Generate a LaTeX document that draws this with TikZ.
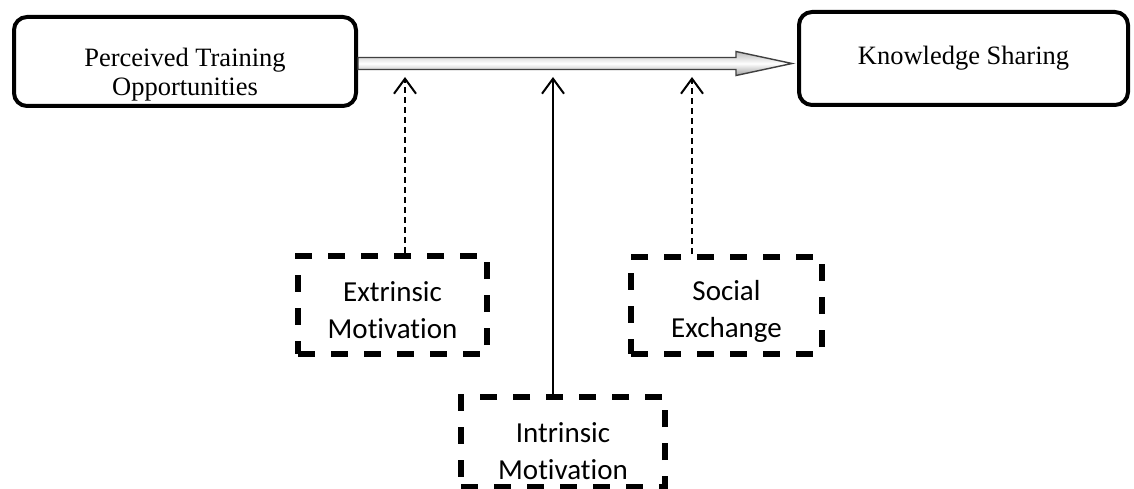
\documentclass[tikz,border=0pt]{standalone}
\usepackage{fontspec}
\setmainfont{Liberation Serif}
\newfontfamily\carl[Ligatures=NoCommon]{Carlito}
\usetikzlibrary{arrows.meta,calc}
\begin{document}
\begin{tikzpicture}[x=1pt,y=-1pt,
  mainbox/.style={draw,line width=4pt,rounded corners=13pt,inner sep=0pt},
  maintext/.style={align=center,font=\fontsize{26.5}{29}\selectfont,inner sep=0pt},
  modbox/.style={draw,line width=6pt,dash pattern=on 17pt off 16pt,inner sep=0pt},
  modtext/.style={align=center,font=\carl\fontsize{29}{37}\selectfont,inner sep=0pt},
  dashlink/.style={line width=2pt,dash pattern=on 6pt off 4pt,-{Straight Barb[length=15pt,width=22pt,line width=2pt]}},
  solidlink/.style={line width=2pt,-{Straight Barb[length=15pt,width=22pt,line width=2pt]}}
]
\useasboundingbox[fill=white] (0,0) rectangle (1134,489);
% main boxes
\node[mainbox,minimum width=342pt,minimum height=89pt] (pto) at (185,61.5) {};
\node[maintext] (ptot) at (185,75) {Perceived Training\\Opportunities};
\node[mainbox,minimum width=329pt,minimum height=93pt,maintext] (ks) at (963.5,58.5) {Knowledge Sharing};
% moderator boxes
\node[modbox,minimum width=189pt,minimum height=98pt] (em) at (392.5,305) {};
\node[modtext] (emt) at (392.5,310) {Extrinsic\\Motivation};
\node[modbox,minimum width=191pt,minimum height=97pt] (se) at (726.5,305.5) {};
\node[modtext] (set) at (726.5,311) {Social\\Exchange};
\node[modbox,minimum width=204pt,minimum height=90pt] (im) at (563,442) {};
\node[modtext] (imt) at (563,451) {Intrinsic\\Motivation};
% main arrow (shadow + shaded body)
\fill[gray!50,opacity=0.6,xshift=3pt,yshift=-3pt] let \p1=(pto.east), \p2=(ks.west) in
  (\x1,\y1+4pt) -- (\x2-61pt,\y1+4pt) -- (\x2-61pt,\y1+10pt) -- (\x2-5pt,\y1-2pt)
  -- (\x2-61pt,\y1-14pt) -- (\x2-61pt,\y1-8pt) -- (\x1,\y1-8pt) -- cycle;
\path[draw=gray!50!black,line width=1.4pt,top color=gray!55,bottom color=gray!75,middle color=white]
  let \p1=(pto.east), \p2=(ks.west) in
  (\x1,\y1+4pt) -- (\x2-61pt,\y1+4pt) -- (\x2-61pt,\y1+10pt) -- (\x2-5pt,\y1-2pt)
  -- (\x2-61pt,\y1-14pt) -- (\x2-61pt,\y1-8pt) -- (\x1,\y1-8pt) -- cycle;
% moderator links
\coordinate (t1) at (405,77);
\coordinate (t2) at (553,77);
\coordinate (t3) at (692,77);
\draw[dashlink] (t1 |- em.north) -- (t1);
\draw[solidlink] (t2 |- im.north) -- (t2);
\draw[dashlink] (t3 |- se.north) -- (t3);
\end{tikzpicture}
\end{document}
